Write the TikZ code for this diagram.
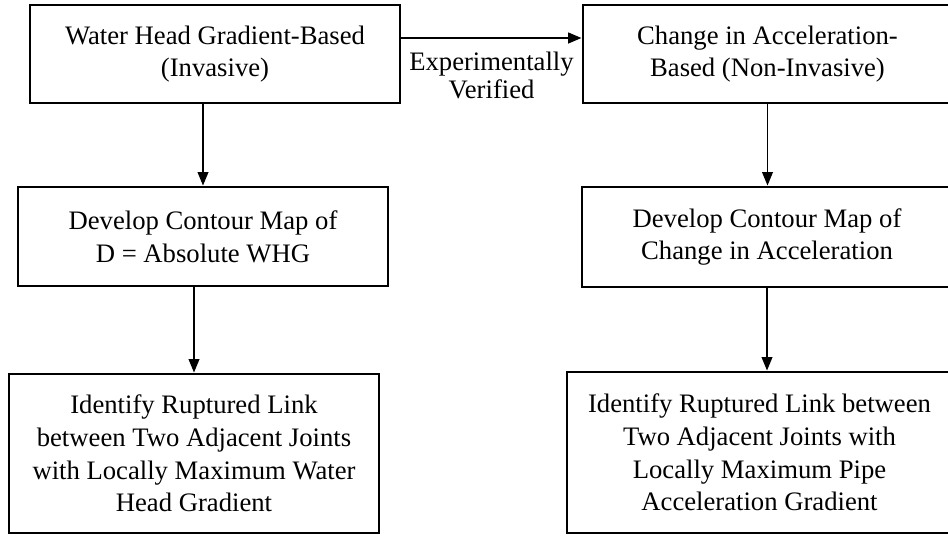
\documentclass[tikz,border=0pt]{standalone}
\usepackage{fontspec}
\setmainfont{Liberation Serif}
\usetikzlibrary{arrows.meta,positioning,calc}

\begin{document}
\begin{tikzpicture}[x=0.75pt,y=-0.75pt,
  box/.style={draw,line width=2.2pt,align=center,inner sep=0pt,
    font=\fontsize{20}{24.5}\selectfont},
  arr/.style={-{Triangle[length=10pt,width=8pt]},line width=1pt}]
  \useasboundingbox (0,0) rectangle (948,536);
  % invasive branch
  \node[box,minimum width=277.5pt,minimum height=73.5pt] (whg) at (215,54)
    {Water Head Gradient-Based\\(Invasive)};
  \node[box,minimum width=277.5pt,minimum height=74.25pt] (cmapL) at (203,236.5)
    {Develop Contour Map of\\D = Absolute WHG};
  \node[box,minimum width=277.5pt,minimum height=119.25pt] (rupL) at (194,453.5)
    {Identify Ruptured Link\\between Two Adjacent Joints\\with Locally Maximum Water\\Head Gradient};
  % non-invasive branch
  \node[box,minimum width=276.75pt,minimum height=73.5pt] (accel) at (767.5,54)
    {Change in Acceleration-\\Based (Non-Invasive)};
  \node[box,minimum width=277.5pt,minimum height=75pt] (cmapR) at (767,237)
    {Develop Contour Map of\\Change in Acceleration};
  \node[box,minimum width=288.75pt,minimum height=120.75pt] (rupR) at (759.5,452.5)
    {Identify Ruptured Link between\\Two Adjacent Joints with\\Locally Maximum Pipe\\Acceleration Gradient};

  \draw[arr,line width=1.5pt] ([yshift=12pt]whg.east) -- ([yshift=12pt]whg.east -| accel.west)
    node[midway,below=9.5pt,align=center,inner sep=0pt,font=\fontsize{20}{21}\selectfont]
    (verif) {Experimentally\\Verified};
  \draw[arr] (cmapL.north |- whg.south) -- (cmapL.north);
  \draw[arr] (rupL.north |- cmapL.south) -- (rupL.north);
  \draw[arr] (accel.south) -- (accel.south |- cmapR.north);
  \draw[arr] (cmapR.south) -- (cmapR.south |- rupR.north);
\end{tikzpicture}
\end{document}
